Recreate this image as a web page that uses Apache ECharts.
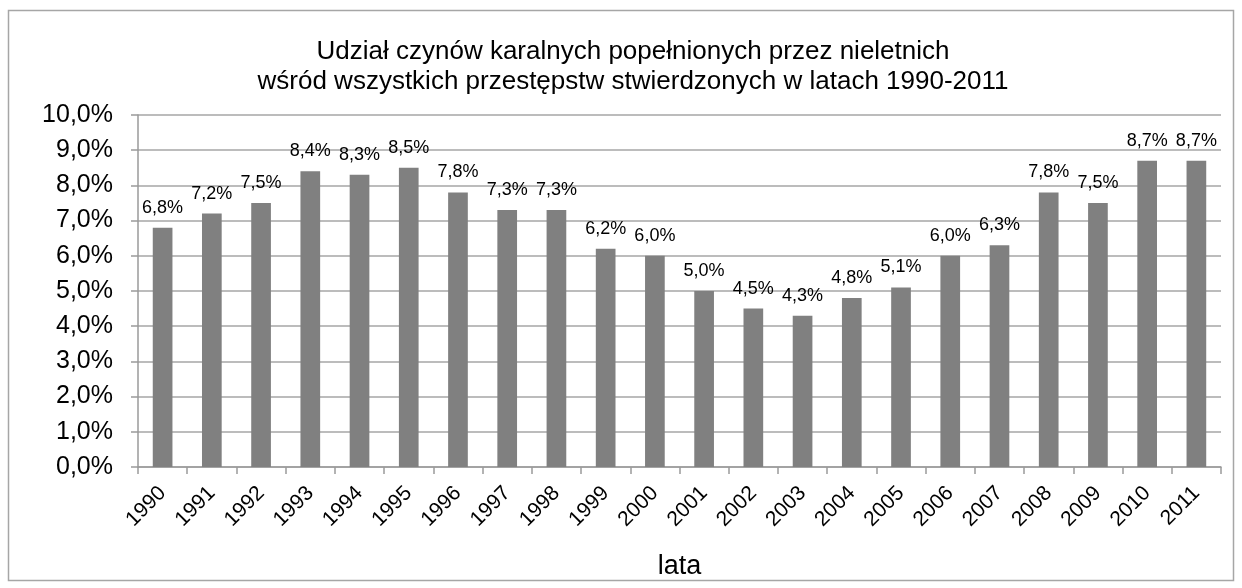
<!DOCTYPE html>
<html><head><meta charset="utf-8">
<script src="https://cdn.jsdelivr.net/npm/echarts@6/dist/echarts.min.js"></script>
<style>html,body{margin:0;padding:0;background:#fff}#c{width:1242px;height:588px}</style>
</head><body><div id="c"></div>
<script>
const categories = ['1990','1991','1992','1993','1994','1995','1996','1997','1998','1999','2000','2001','2002','2003','2004','2005','2006','2007','2008','2009','2010','2011'];
const values = [6.8,7.2,7.5,8.4,8.3,8.5,7.8,7.3,7.3,6.2,6.0,5.0,4.5,4.3,4.8,5.1,6.0,6.3,7.8,7.5,8.7,8.7];
const yTicks = [0,1,2,3,4,5,6,7,8,9,10];
const fmt = v => v.toFixed(1).replace('.', ',') + '%';
const chart = echarts.init(document.getElementById('c'));
chart.setOption({
  backgroundColor: '#fff',
  animation: false,
  graphic: [{type:'rect', shape:{x:8.5,y:10.5,width:1225,height:570}, style:{fill:'none', stroke:'#a6a6a6', lineWidth:1.5}}],
  title: {
    text: 'Udział czynów karalnych popełnionych przez nieletnich\nwśród wszystkich przestępstw stwierdzonych w latach 1990-2011',
    left: 628, top: 32, textAlign: 'center',
    textStyle: {fontFamily:'Liberation Sans, Arial', fontSize: 26, fontWeight:'normal', color:'#000', lineHeight: 30}
  },
  grid: {left: 138, right: 21, top: 115, bottom: 121, containLabel: false, outerBoundsMode: 'none'},
  xAxis: {
    type: 'category', data: categories, boundaryGap: true,
    name: 'lata', nameLocation: 'middle', nameGap: 86,
    nameTextStyle: {fontFamily:'Liberation Sans, Arial', fontSize: 27, color:'#000'},
    axisLine: {lineStyle: {color:'#9a9a9a', width: 1.5}},
    axisTick: {show: true, alignWithLabel: false, length: 7, lineStyle:{color:'#9a9a9a', width:1.5}},
    axisLabel: {rotate: 45, fontFamily:'Liberation Sans, Arial', fontSize: 21, color:'#000', margin: 23, interval: 0}
  },
  yAxis: {
    type: 'value', min: 0, max: 10, interval: 1,
    axisLine: {show: true, lineStyle: {color:'#9a9a9a', width: 1.5}},
    axisTick: {show: true, length: 7, lineStyle:{color:'#9a9a9a', width:1.5}},
    splitLine: {lineStyle: {color:'#a6a6a6', width: 1.5}},
    axisLabel: {formatter: v => yTicks.includes(v) ? fmt(v) : '', fontFamily:'Liberation Sans, Arial', fontSize: 25, color:'#000', margin: 25}
  },
  series: [{
    type: 'bar', data: values, barWidth: '40%',
    itemStyle: {color: '#808080'},
    label: {show: true, position: 'top', distance: 11, formatter: p => fmt(p.value), fontFamily:'Liberation Sans, Arial', fontSize: 18, color:'#000'}
  }]
});
</script></body></html>
